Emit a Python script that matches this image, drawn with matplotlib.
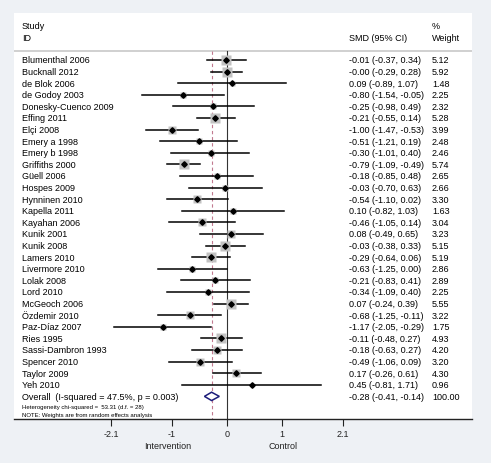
import numpy as np
import matplotlib.pyplot as plt
import matplotlib.transforms as mtransforms

#%% DATA
studies = ['Blumenthal 2006', 'Bucknall 2012', 'de Blok 2006', 'de Godoy 2003',
           'Donesky-Cuenco 2009', 'Effing 2011', 'Elçi 2008', 'Emery a 1998',
           'Emery b 1998', 'Griffiths 2000', 'Güell 2006', 'Hospes 2009',
           'Hynninen 2010', 'Kapella 2011', 'Kayahan 2006', 'Kunik 2001',
           'Kunik 2008', 'Lamers 2010', 'Livermore 2010', 'Lolak 2008',
           'Lord 2010', 'McGeoch 2006', 'Özdemir 2010', 'Paz-Díaz 2007',
           'Ries 1995', 'Sassi-Dambron 1993', 'Spencer 2010', 'Taylor 2009',
           'Yeh 2010']
smd = [-0.01, -0.00, 0.09, -0.80, -0.25, -0.21, -1.00, -0.51, -0.30, -0.79,
       -0.18, -0.03, -0.54, 0.10, -0.46, 0.08, -0.03, -0.29, -0.63, -0.21,
       -0.34, 0.07, -0.68, -1.17, -0.11, -0.18, -0.49, 0.17, 0.45]
ci_lo = [-0.37, -0.29, -0.89, -1.54, -0.98, -0.55, -1.47, -1.21, -1.01, -1.09,
         -0.85, -0.70, -1.10, -0.82, -1.05, -0.49, -0.38, -0.64, -1.25, -0.83,
         -1.09, -0.24, -1.25, -2.05, -0.48, -0.63, -1.06, -0.26, -0.81]
ci_hi = [0.34, 0.28, 1.07, -0.05, 0.49, 0.14, -0.53, 0.19, 0.40, -0.49,
         0.48, 0.63, 0.02, 1.03, 0.14, 0.65, 0.33, 0.06, 0.00, 0.41,
         0.40, 0.39, -0.11, -0.29, 0.27, 0.27, 0.09, 0.61, 1.71]
weight = [5.12, 5.92, 1.48, 2.25, 2.32, 5.28, 3.99, 2.48, 2.46, 5.74,
          2.65, 2.66, 3.30, 1.63, 3.04, 3.23, 5.15, 5.19, 2.86, 2.89,
          2.25, 5.55, 3.22, 1.75, 4.93, 4.20, 3.20, 4.30, 0.96]
overall = [-0.28, -0.41, -0.14]
overall_label = 'Overall  (I-squared = 47.5%, p = 0.003)'
het_text = 'Heterogeneity chi-squared =  53.31 (d.f. = 28)'
note_text = 'NOTE: Weights are from random effects analysis'
ticks = [-2.1, -1, 0, 1, 2.1]
tick_labels = ['-2.1', '-1', '0', '1', '2.1']

#%% FIGURE
plt.rcParams['font.family'] = ['Liberation Sans', 'DejaVu Sans']
fs = 6.5
fig = plt.figure(figsize=(4.91, 4.64), dpi=100, facecolor='#eef1f5')
ax = fig.add_axes([14/491, 1 - 420/464, 458/491, 406/464])
ax.set_facecolor('white')
ax.set_xlim((14 - 227)/55, (472 - 227)/55)
ax.set_ylim(30.95, -4.05)
for s in ['top', 'left', 'right']:
    ax.spines[s].set_visible(False)
ax.spines['bottom'].set_color('#222222')
ax.spines['bottom'].set_linewidth(1.0)
ax.set_yticks([])
ax.set_xticks(ticks)
ax.set_xticklabels(tick_labels, fontsize=fs, color='#222222')
ax.tick_params(axis='x', length=5, width=0.8, color='#222222', pad=2.5)

n = len(studies)
rows = np.arange(n)
x_lab = (22 - 227)/55
x_smd = (349 - 227)/55
x_w = (432 - 227)/55

# header
ax.text(x_lab, -3.0, 'Study', fontsize=fs, va='center')
ax.text(x_lab, -1.98, 'ID', fontsize=fs, va='center')
ax.text(x_smd, -1.98, 'SMD (95% CI)', fontsize=fs, va='center')
ax.text(x_w, -3.0, '%', fontsize=fs, va='center')
ax.text(x_w, -1.98, 'Weight', fontsize=fs, va='center')
ax.axhline(-0.78, color='#c8c8c8', lw=1.2)

# reference lines
ax.plot([0, 0], [-0.78, 30.95], color='#333333', lw=0.8, clip_on=False)
ax.plot([overall[0], overall[0]], [-0.78, 30.95], color='#c27a90', lw=0.8,
        dashes=(3, 2.5))

# studies
for i in range(n):
    ax.plot([ci_lo[i], ci_hi[i]], [rows[i], rows[i]], color='black', lw=1.1)
    ax.plot(smd[i], rows[i], marker='s', ms=7.2*np.sqrt(weight[i]/5.92),
            color='#c2c2c2', mec='none', zorder=2)
    ax.plot(smd[i], rows[i], marker='D', ms=2.8, color='black', zorder=3)
    ax.text(x_lab, rows[i], studies[i], fontsize=fs, va='center')
    ax.text(x_smd, rows[i], '%.2f (%.2f, %.2f)' % (smd[i], ci_lo[i], ci_hi[i]),
            fontsize=fs, va='center')
    ax.text(x_w, rows[i], '%.2f' % weight[i], fontsize=fs, va='center')

# overall
y_o = n
ax.fill([overall[1], overall[0], overall[2], overall[0]],
        [y_o, y_o - 0.36, y_o, y_o + 0.36], facecolor='white',
        edgecolor='#1c1c7a', lw=1.1, zorder=4)
ax.text(x_lab, y_o, overall_label, fontsize=fs, va='center')
ax.text(x_smd, y_o, '%.2f (%.2f, %.2f)' % tuple(overall), fontsize=fs, va='center')
ax.text(x_w, y_o, '100.00', fontsize=fs, va='center')
ax.text(x_lab, 29.83, het_text, fontsize=4.3, va='center')
ax.text(x_lab, 30.52, note_text, fontsize=4.3, va='center')

# axis titles
trans = mtransforms.blended_transform_factory(ax.transData, ax.transAxes)
ax.text(-1.08, -27/406, 'Intervention', fontsize=fs, ha='center', va='center',
        transform=trans, color='#222222')
ax.text(1.02, -27/406, 'Control', fontsize=fs, ha='center', va='center',
        transform=trans, color='#222222')

fig.savefig('out.png', dpi=100, facecolor=fig.get_facecolor())
